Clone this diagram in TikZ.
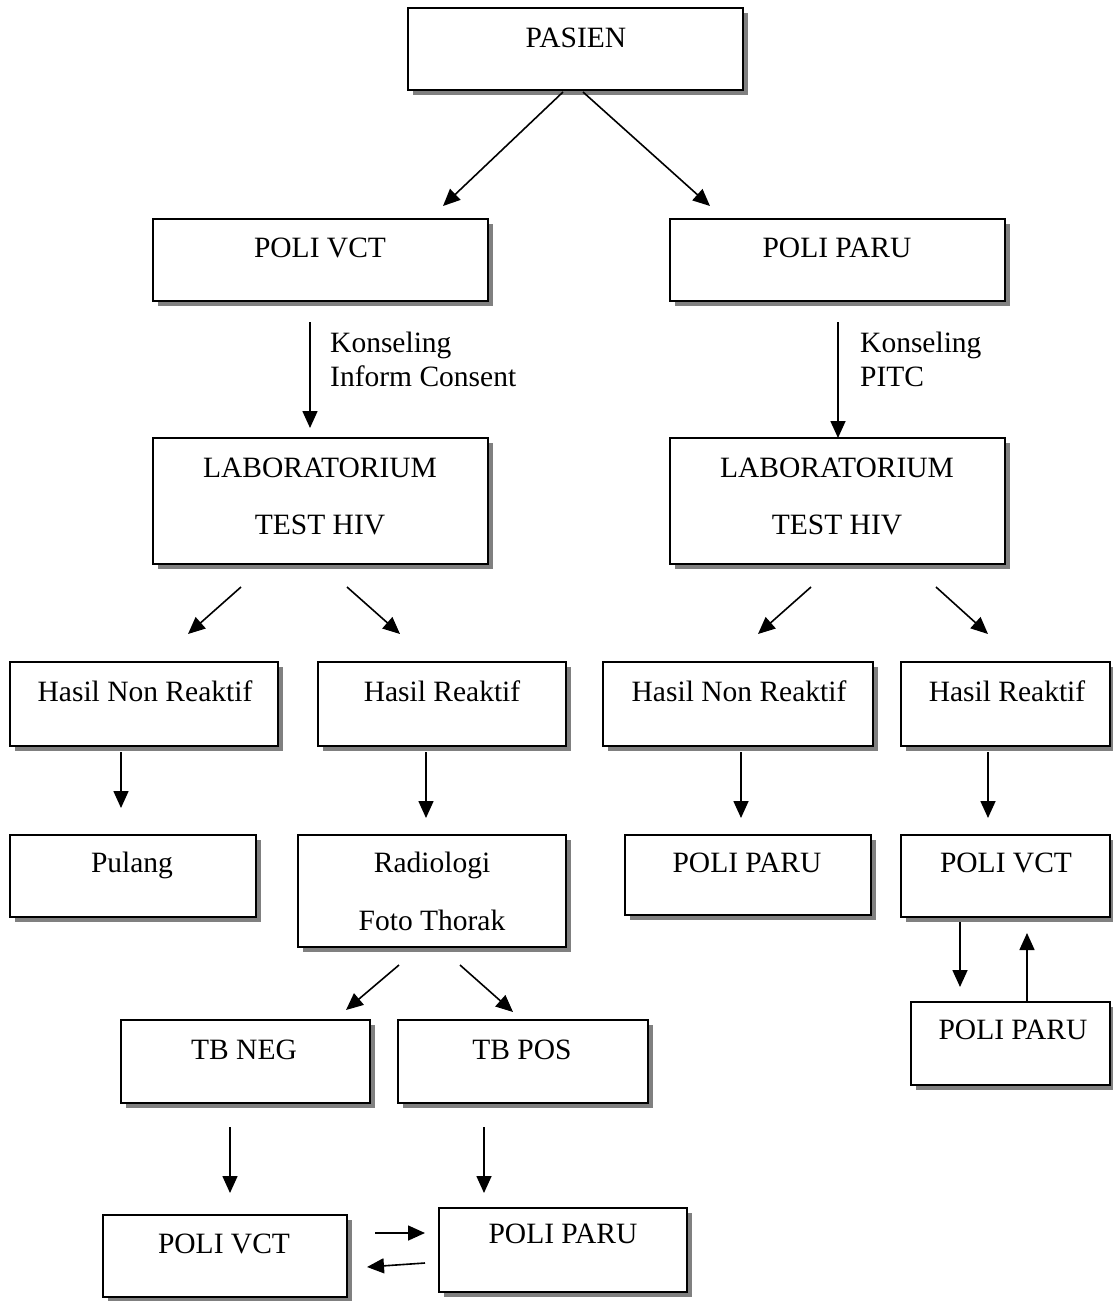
\documentclass[tikz,border=0pt]{standalone}
\usepackage{fontspec}
\setmainfont{Liberation Serif}
\usetikzlibrary{arrows.meta}
\definecolor{shadowgray}{RGB}{128,128,128}
\tikzset{
  boxst/.style={draw=black, line width=1.8pt, fill=white, inner sep=0pt},
  txt/.style={font=\fontsize{29.5}{34}\selectfont, inner sep=0pt, anchor=base},
  lbl/.style={font=\fontsize{29.5}{34}\selectfont, inner sep=0pt, anchor=base west},
  arr/.style={line width=1.6pt, -{Triangle[length=17pt,width=15pt]}},
}
\newcommand\mybox[5]{%
  \fill[shadowgray] ({#2+5},{#3+5}) rectangle ({#4+5},{#5+5});
  \node[boxst, minimum width={(#4-#2)*1pt}, minimum height={(#5-#3)*1pt}] (#1) at ({(#2+#4)/2},{(#3+#5)/2}) {};
}
\begin{document}
\begin{tikzpicture}[x=1pt,y=-1pt]
\useasboundingbox (0,0) rectangle (1112,1301);
% boxes
\mybox{pasien}{408}{8}{743}{90}
\mybox{vctA}{153}{219}{488}{301}
\mybox{paruA}{670}{219}{1005}{301}
\mybox{labL}{153}{438}{488}{564}
\mybox{labR}{670}{438}{1005}{564}
\mybox{nrL}{10}{662}{278}{746}
\mybox{rL}{318}{662}{566}{746}
\mybox{nrR}{603}{662}{873}{746}
\mybox{rR}{901}{662}{1110}{746}
\mybox{pulang}{10}{835}{256}{917}
\mybox{radio}{298}{835}{566}{947}
\mybox{paruM}{625}{835}{871}{915}
\mybox{vctR}{901}{835}{1110}{917}
\mybox{tbneg}{121}{1020}{370}{1103}
\mybox{tbpos}{398}{1020}{648}{1103}
\mybox{paruR}{911}{1002}{1110}{1085}
\mybox{vctB}{103}{1215}{347}{1297}
\mybox{paruB}{439}{1208}{687}{1292}
% texts
\node[txt] (t-pasien) at (576,47) {PASIEN};
\node[txt] (t-vctA) at (320,257) {POLI VCT};
\node[txt] (t-paruA) at (837,257) {POLI PARU};
\node[txt] (t-labL1) at (320,477) {LABORATORIUM};
\node[txt] (t-labL2) at (320,534) {TEST HIV};
\node[txt] (t-labR1) at (837,477) {LABORATORIUM};
\node[txt] (t-labR2) at (837,534) {TEST HIV};
\node[txt] (t-nrL) at (145,701) {Hasil Non Reaktif};
\node[txt] (t-rL) at (442,701) {Hasil Reaktif};
\node[txt] (t-nrR) at (739,701) {Hasil Non Reaktif};
\node[txt] (t-rR) at (1007,701) {Hasil Reaktif};
\node[txt] (t-pulang) at (132,872) {Pulang};
\node[txt] (t-radio1) at (432,872) {Radiologi};
\node[txt] (t-radio2) at (432,930) {Foto Thorak};
\node[txt] (t-paruM) at (747,872) {POLI PARU};
\node[txt] (t-vctR) at (1006,872) {POLI VCT};
\node[txt] (t-tbneg) at (244,1059) {TB NEG};
\node[txt] (t-tbpos) at (522,1059) {TB POS};
\node[txt] (t-paruR) at (1013,1039) {POLI PARU};
\node[txt] (t-vctB) at (224,1253) {POLI VCT};
\node[txt] (t-paruB) at (563,1243) {POLI PARU};
\node[lbl] (k1a) at (330,352) {Konseling};
\node[lbl] (k1b) at (330,386) {Inform Consent};
\node[lbl] (k2a) at (860,352) {Konseling};
\node[lbl] (k2b) at (860,386) {PITC};
% arrow end points
\coordinate (a1s) at (563,92);  \coordinate (a1e) at (443,206);
\coordinate (a2s) at (583,92);  \coordinate (a2e) at (710,206);
\coordinate (a3s) at (310,322); \coordinate (a3e) at (310,428);
\coordinate (a4s) at (838,322); \coordinate (a4e) at (838,438);
\coordinate (a5s) at (241,587); \coordinate (a5e) at (188,634);
\coordinate (a6s) at (347,587); \coordinate (a6e) at (400,634);
\coordinate (a7s) at (811,587); \coordinate (a7e) at (758,634);
\coordinate (a8s) at (936,587); \coordinate (a8e) at (988,634);
\coordinate (a9s) at (121,752); \coordinate (a9e) at (121,808);
\coordinate (a10s) at (426,752); \coordinate (a10e) at (426,818);
\coordinate (a11s) at (741,752); \coordinate (a11e) at (741,818);
\coordinate (a12s) at (988,752); \coordinate (a12e) at (988,818);
\coordinate (a13s) at (399,965); \coordinate (a13e) at (346,1010);
\coordinate (a14s) at (460,965); \coordinate (a14e) at (513,1012);
\coordinate (a15s) at (230,1127); \coordinate (a15e) at (230,1193);
\coordinate (a16s) at (484,1127); \coordinate (a16e) at (484,1193);
\coordinate (a17s) at (375,1233); \coordinate (a17e) at (425,1233);
\coordinate (a18s) at (425,1263); \coordinate (a18e) at (367,1267);
\coordinate (a19s) at (960,922); \coordinate (a19e) at (960,987);
\coordinate (a20s) at (1027,1002); \coordinate (a20e) at (1027,933);
% arrows
\foreach \i in {1,...,20} \draw[arr] (a\i s) -- (a\i e);
\end{tikzpicture}
\end{document}
